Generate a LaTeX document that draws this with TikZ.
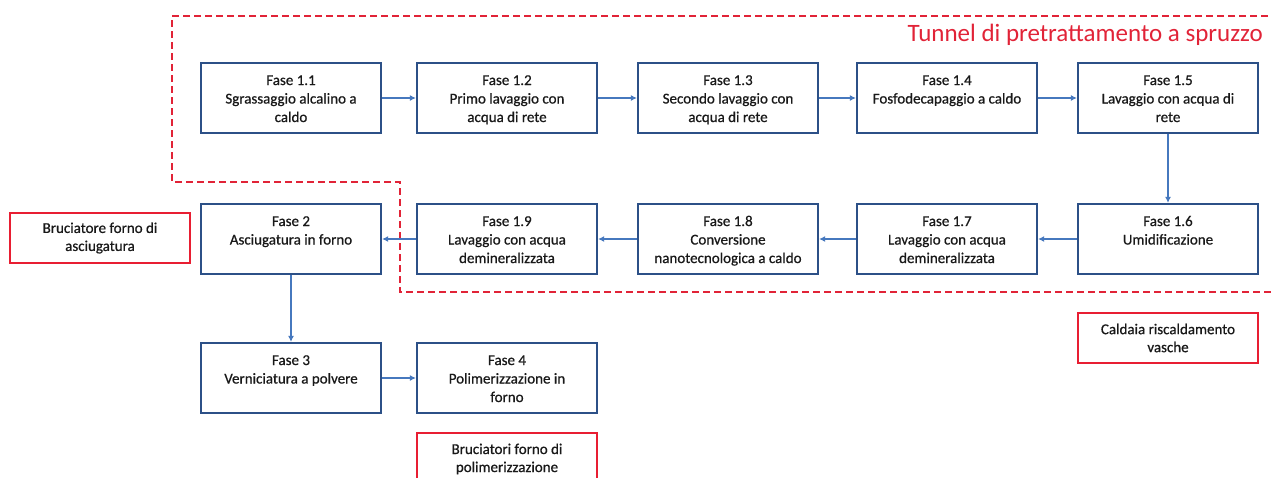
\documentclass[tikz,border=0pt]{standalone}
\usepackage{fontspec}
\setmainfont{Carlito}
\newfontfamily\boxfont[FakeBold=0.7]{Carlito}
\usetikzlibrary{arrows.meta}
\definecolor{boxblue}{RGB}{44,80,135}
\definecolor{arrblue}{RGB}{70,120,190}
\definecolor{redbox}{RGB}{232,30,50}
\definecolor{reddash}{RGB}{225,35,55}
\definecolor{txt}{RGB}{25,25,25}
\newcommand{\fasetext}[1]{\parbox[c][70pt][t]{176pt}{\centering\boxfont\fontsize{15}{18.5}\selectfont\rule{0pt}{22pt}#1}}
\tikzset{
  fase/.style={draw=boxblue, line width=2.2pt, inner sep=0pt, minimum width=180pt, minimum height=70pt, text=txt},
  redb/.style={draw=redbox, line width=2.2pt, minimum width=180pt, minimum height=50pt, inner sep=0pt, align=center, font=\boxfont\fontsize{15}{18}\selectfont, text=txt},
  arr/.style={draw=arrblue, line width=1.4pt, -{Latex[length=6pt,width=6pt]}},
  tunnel/.style={draw=reddash, line width=1.6pt, dash pattern=on 7pt off 4pt}
}
\begin{document}
\begin{tikzpicture}[x=1pt,y=-1pt]
\useasboundingbox (0,0) rectangle (1272,477);
% tunnel outline
\draw[tunnel] (1290,16) -- (172,16) -- (172,182) -- (400,182) -- (400,292) -- (1290,292);
\node[anchor=base east, text=reddash, font=\fontsize{25}{29}\selectfont, inner sep=0pt] (title) at (1263,41) {Tunnel di pretrattamento a spruzzo};
% row 1
\node[fase] (f11) at (291,98) {\fasetext{Fase 1.1\\Sgrassaggio alcalino a\\caldo}};
\node[fase] (f12) at (507,98) {\fasetext{Fase 1.2\\Primo lavaggio con\\acqua di rete}};
\node[fase] (f13) at (728,98) {\fasetext{Fase 1.3\\Secondo lavaggio con\\acqua di rete}};
\node[fase] (f14) at (947,98) {\fasetext{Fase 1.4\\Fosfodecapaggio a caldo}};
\node[fase] (f15) at (1168,98) {\fasetext{Fase 1.5\\Lavaggio con acqua di\\rete}};
% row 2
\node[fase] (f16) at (1168,239) {\fasetext{Fase 1.6\\Umidificazione}};
\node[fase] (f17) at (947,239) {\fasetext{Fase 1.7\\Lavaggio con acqua\\demineralizzata}};
\node[fase] (f18) at (728,239) {\fasetext{Fase 1.8\\Conversione\\nanotecnologica a caldo}};
\node[fase] (f19) at (507,239) {\fasetext{Fase 1.9\\Lavaggio con acqua\\demineralizzata}};
\node[fase] (f2) at (291,239) {\fasetext{Fase 2\\Asciugatura in forno}};
% row 3
\node[fase] (f3) at (291,378) {\fasetext{Fase 3\\Verniciatura a polvere}};
\node[fase] (f4) at (507,378) {\fasetext{Fase 4\\Polimerizzazione in\\forno}};
% red boxes
\node[redb] (rb1) at (100,238) {Bruciatore forno di\\asciugatura};
\node[redb] (rb2) at (1168,338) {Caldaia riscaldamento\\vasche};
\node[redb, minimum height=52pt] (rb3) at (507,459) {Bruciatori forno di\\polimerizzazione};
% connectors
\draw[arr] (f11) -- (f12);
\draw[arr] (f12) -- (f13);
\draw[arr] (f13) -- (f14);
\draw[arr] (f14) -- (f15);
\draw[arr] (f15) -- (f16);
\draw[arr] (f16) -- (f17);
\draw[arr] (f17) -- (f18);
\draw[arr] (f18) -- (f19);
\draw[arr] (f19) -- (f2);
\draw[arr] (f2) -- (f3);
\draw[arr] (f3) -- (f4);
\end{tikzpicture}
\end{document}
